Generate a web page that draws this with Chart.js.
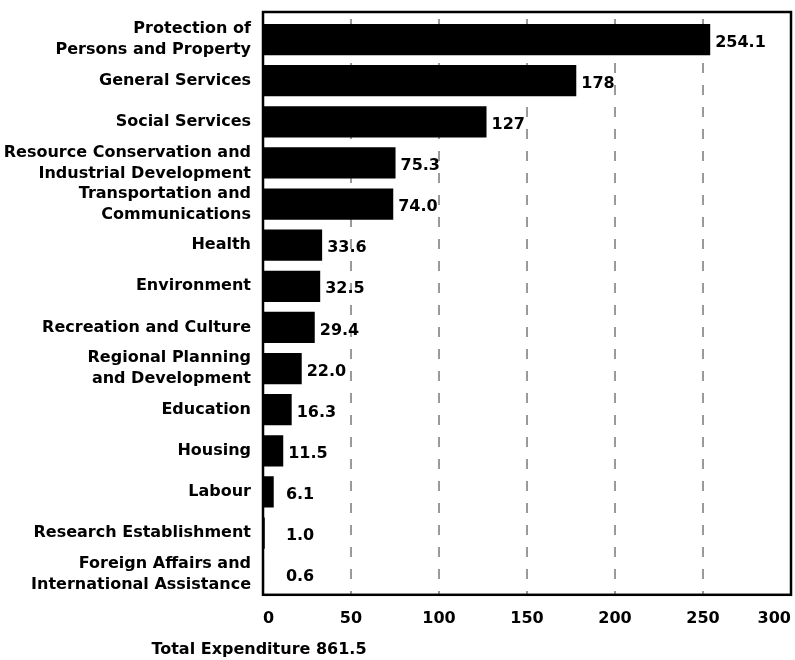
<!DOCTYPE html>
<html>
<head>
<meta charset="utf-8">
<script src="https://cdn.jsdelivr.net/npm/chart.js@4"></script>
<style>
  body { margin: 0; background: #fff; }
  canvas { display: block; }
</style>
</head>
<body>
<canvas id="miGrafico" width="795" height="660"></canvas>
<script>
const categorias = [
  ["Protection of", "Persons and Property"],
  "General Services",
  "Social Services",
  ["Resource Conservation and", "Industrial Development"],
  ["Transportation and", "Communications"],
  "Health",
  "Environment",
  "Recreation and Culture",
  ["Regional Planning", "and Development"],
  "Education",
  "Housing",
  "Labour",
  "Research Establishment",
  ["Foreign Affairs and", "International Assistance"],
];
const valores = [254.1, 178, 127, 75.3, 74.0, 33.6, 32.5, 29.4, 22.0, 16.3, 11.5, 6.1, 1.0, 0.6];
const etiquetasValor = ["254.1", "178", "127", "75.3", "74.0", "33.6", "32.5", "29.4", "22.0", "16.3", "11.5", "6.1", "1.0", "0.6"];
const ticksX = [0, 50, 100, 150, 200, 250, 300];
const textoTotal = "Total Expenditure 861.5";

const fuente = "'DejaVu Sans', sans-serif";

// valores a la derecha de cada barra
const etiquetasPlugin = {
  id: "etiquetas",
  afterDatasetsDraw(chart) {
    const ctx = chart.ctx;
    const xScale = chart.scales.x;
    const meta = chart.getDatasetMeta(0);
    const minX = xScale.getPixelForValue(13);
    ctx.save();
    ctx.font = "bold 16px " + fuente;
    ctx.fillStyle = "#000";
    ctx.textAlign = "left";
    ctx.textBaseline = "middle";
    meta.data.forEach((barra, i) => {
      ctx.fillText(etiquetasValor[i], Math.max(barra.x + 5, minX), barra.y + 3);
    });
    ctx.restore();
  },
  afterDraw(chart) {
    const ctx = chart.ctx;
    const area = chart.chartArea;
    ctx.save();
    // marco del area
    ctx.strokeStyle = "#000";
    ctx.lineWidth = 2.5;
    ctx.strokeRect(area.left, area.top - 7, area.right - area.left, area.bottom - area.top + 7);
    // total abajo
    ctx.font = "bold 16px " + fuente;
    ctx.fillStyle = "#000";
    ctx.textAlign = "center";
    ctx.textBaseline = "middle";
    ctx.fillText(textoTotal, area.left - 4, 650);
    ctx.restore();
  },
};

const ctx = document.getElementById("miGrafico").getContext("2d");

new Chart(ctx, {
  type: "bar",
  data: {
    labels: categorias,
    datasets: [
      {
        data: valores,
        backgroundColor: "#000",
        borderWidth: 0,
        barPercentage: 0.76,
        categoryPercentage: 1,
      },
    ],
  },
  options: {
    indexAxis: "y",
    responsive: false,
    animation: false,
    layout: { padding: { top: 19, right: 4, bottom: 18, left: 0 } },
    plugins: {
      legend: { display: false },
      tooltip: { enabled: false },
    },
    scales: {
      x: {
        min: 0,
        max: 300,
        afterBuildTicks: (scale) => {
          scale.ticks = ticksX.map((v) => ({ value: v }));
        },
        grid: {
          drawTicks: false,
          lineWidth: 2,
          color: (c) => (c.tick && (c.tick.value === 0 || c.tick.value === 300) ? "rgba(0,0,0,0)" : "#9a9a9a"),
        },
        border: { display: false, dash: [10, 12] },
        ticks: {
          align: "inner",
          padding: 14,
          color: "#000",
          font: { family: fuente, size: 16, weight: "bold" },
        },
        afterFit: (scale) => {
          scale.paddingLeft = 0;
          scale.paddingRight = 0;
        },
      },
      y: {
        grid: { display: false, drawTicks: false },
        border: { display: false },
        ticks: {
          autoSkip: false,
          padding: 12,
          color: "#000",
          font: { family: fuente, size: 16, weight: "bold", lineHeight: 1.3 },
        },
        afterFit: (scale) => {
          scale.width = 263;
          scale.paddingTop = 0;
          scale.paddingBottom = 0;
        },
      },
    },
  },
  plugins: [etiquetasPlugin],
});
</script>
</body>
</html>
